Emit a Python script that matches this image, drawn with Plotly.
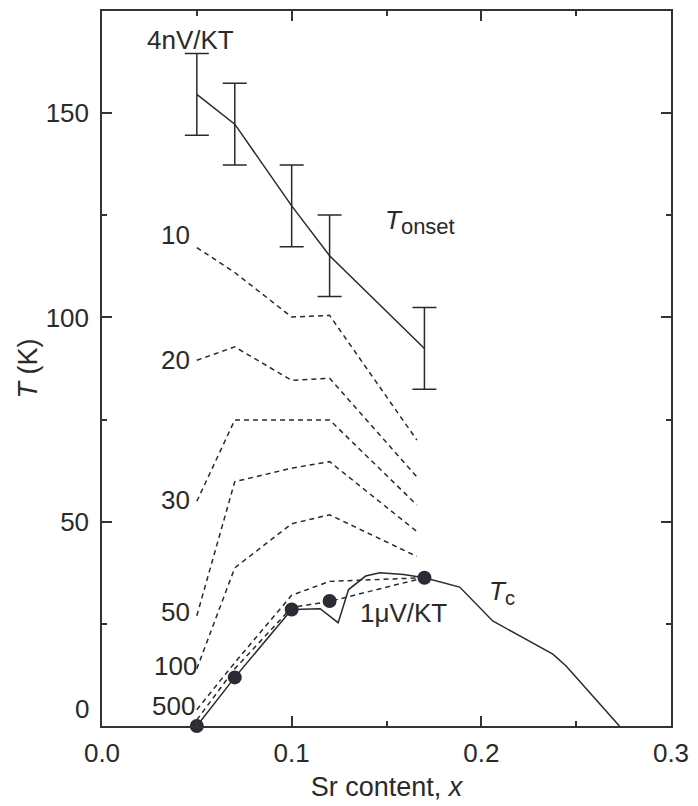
import plotly.graph_objects as go

# Sr compositions of the measured samples
x_samples = [0.05, 0.07, 0.10, 0.12, 0.17]
# x positions of the Nernst contour points (last point at the end of the contour)
x_contour = [0.05, 0.07, 0.10, 0.12, 0.166]

# Onset temperature of the Nernst signal (4 nV/KT) with error bars
t_onset = [154.6, 147.3, 127.3, 115.1, 92.4]
t_onset_err = [10, 10, 10, 10, 10]

# Contours of constant Nernst coefficient (nV/KT)
t_10 = [117.1, 111.0, 100.1, 100.5, 70.0]
t_20 = [89.5, 92.8, 84.6, 85.1, 61.0]
t_30 = [55.0, 74.9, 74.9, 74.9, 54.1]
t_50 = [27.0, 59.8, 63.1, 64.7, 47.6]
t_100 = [14.0, 38.7, 49.5, 51.7, 41.5]
t_500 = [4.0, 15.5, 32.0, 35.4, 36.3]
t_1uV = [1.5, 14.0, 29.0, 30.5, 36.3]

# Sample Tc values
tc_samples = [0.0, 11.9, 28.5, 30.6, 36.3]

# Tc(x) dome
tc_x = [0.05, 0.07, 0.10, 0.115, 0.1245, 0.13, 0.139, 0.1465, 0.159, 0.17,
        0.1886, 0.206, 0.2377, 0.2447, 0.2728]
tc_t = [0.0, 11.9, 28.5, 28.7, 25.3, 33.4, 36.7, 37.5, 37.1, 36.3,
        34.0, 25.7, 17.6, 14.7, 0.0]

ink = "#2a2a2a"
font_family = "Liberation Sans, Arial, Helvetica, sans-serif"
dash = "5px,4px"

fig = go.Figure()

for ys, xs in [(t_10, x_contour), (t_20, x_contour), (t_30, x_contour),
               (t_50, x_contour), (t_100, x_contour),
               (t_500, x_samples), (t_1uV, x_samples)]:
    fig.add_trace(go.Scatter(
        x=xs, y=ys, mode="lines",
        line=dict(color=ink, width=1.5, dash=dash),
        hoverinfo="skip", showlegend=False))

fig.add_trace(go.Scatter(
    x=tc_x, y=tc_t, mode="lines",
    line=dict(color=ink, width=1.5),
    showlegend=False))

fig.add_trace(go.Scatter(
    x=x_samples, y=t_onset, mode="lines",
    line=dict(color=ink, width=1.5),
    error_y=dict(type="data", array=t_onset_err, visible=True,
                 width=12, thickness=1.5, color=ink),
    showlegend=False))

fig.add_trace(go.Scatter(
    x=x_samples, y=tc_samples, mode="markers",
    marker=dict(size=14, color="#2b2b35"),
    cliponaxis=False, showlegend=False))

label_font = dict(family=font_family, size=26, color=ink)

def label(text, x, y, **kw):
    fig.add_annotation(x=x, y=y, text=text, showarrow=False,
                       font=label_font, **kw)

label("4nV/KT", 0.0465, 168)
label("<i>T</i><sub><span style='font-size:22px'>onset</span></sub>",
      0.1675, 123.4)
label("<i>T</i><sub><span style='font-size:20px'>c</span></sub>",
      0.2107, 32.7)
label("1\u03bcV/KT", 0.159, 27.6)
label("10", 0.039, 120.2)
label("20", 0.0386, 89.5)
label("30", 0.0386, 55.4)
label("50", 0.0386, 28.0)
label("100", 0.0386, 14.6)
label("500", 0.0376, 4.9)
# y = 0 tick label, lifted above the 0.0 label of the x axis
fig.add_annotation(xref="paper", x=0, y=0, text="0", showarrow=False,
                   xanchor="right", yanchor="bottom", xshift=-11, yshift=0,
                   font=label_font)

axis_common = dict(
    showline=True, linecolor="#333333", linewidth=1.5, mirror="allticks",
    ticks="inside", ticklen=10, tickwidth=1.5, tickcolor="#333333",
    showgrid=False, zeroline=False,
    tickfont=dict(family=font_family, size=26, color=ink),
)

fig.update_xaxes(
    range=[0, 0.3], tick0=0, dtick=0.1, tickformat=".1f",
    minor=dict(ticks="inside", ticklen=5, dtick=0.05, tick0=0,
               tickcolor="#333333", tickwidth=1.5),
    title=dict(text="Sr content, <i>x</i>", standoff=10,
               font=dict(family=font_family, size=27, color=ink)),
    ticklabelstandoff=3,
    **axis_common)

fig.update_yaxes(
    range=[0, 175], tickmode="array", tickvals=[50, 100, 150],
    minor=dict(ticks="inside", ticklen=5, tickmode="array",
               tickvals=[25, 75, 125],
               tickcolor="#333333", tickwidth=1.5),
    title=dict(text="<i>T</i> (K)", standoff=0,
               font=dict(family=font_family, size=27, color=ink)),
    ticklabelstandoff=6,
    **axis_common)

fig.update_layout(
    width=698, height=806,
    margin=dict(l=102, r=26, t=9, b=79),
    paper_bgcolor="white", plot_bgcolor="white",
    font=dict(family=font_family, color=ink),
    showlegend=False,
)

fig.write_html("out.html")
